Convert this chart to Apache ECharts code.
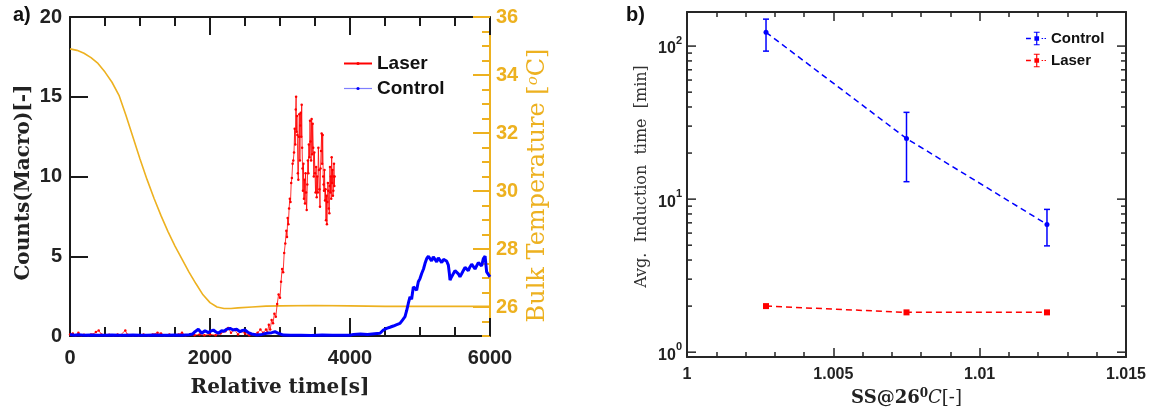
<!DOCTYPE html>
<html><head><meta charset="utf-8">
<script src="https://cdn.jsdelivr.net/npm/echarts@6/dist/echarts.min.js"></script>
<style>html,body{margin:0;padding:0;background:#fff}#c{width:1159px;height:408px}</style>
</head><body><div id="c"></div>
<script>
// ---------- Panel a data ----------
const timeMin = 0, timeMax = 6000;
const tempTime  = [0,100,200,300,400,500,600,700,800,900,1000,1100,1200,1300,1400,1500,1600,1700,1800,1900,2000,2100,2200,2300,2400,2600,2800,3000,3500,4000,4500,5000,5500,6000];
const tempValue = [34.9,34.85,34.75,34.6,34.4,34.1,33.75,33.3,32.6,31.85,31.1,30.4,29.75,29.15,28.6,28.1,27.65,27.2,26.8,26.42,26.15,26.0,25.95,25.95,25.97,26.0,26.03,26.04,26.05,26.04,26.02,26.02,26.02,26.02];

const laserTime = [0,40,80,120,160,200,260,300,330,370,410,450,500,560,620,680,720,790,820,900,980,1050,1120,1180,1250,1300,1350,1420,1480,1550,1600,1650,1720,1780,1850,1920,2000,2080,2150,2220,2260,2300,2350,2400,2450,2500,2560,2620,2680,2720,2760,
 2800,2820,2840,2860,2880,2900,2920,2940,2960,2980,3000,3015,3030,3045,3060,3075,3090,3100,3110,3120,3130,3140,3150,3160,3170,3180,3190,
 3200,3210,3218,3225,3230,3236,3242,3248,3255,3262,3270,3276,3284,3290,3296,3303,3310,3316,3322,3328,3335,3342,3350,3357,3365,3372,3381,3390,3398,3405,3412,3420,3429,3436,3444,3452,3460,3467,3475,3483,3490,3500,3508,3516,3524,3532,3540,3548,3556,3564,3571,3579,3587,3595,3602,3610,3617,3623,3629,3636,3643,3650,3657,3664,3670,3677,3684,3690,3697,3705,3710,3714,3720,3726,3732,3738,3744,3750,3756,3762,3767,3771,3776,3780];
const laserCounts = [0.1,0.15,0.05,0.2,0.05,0.08,0.05,0.1,0.1,0.25,0.35,0.1,0.05,0.08,0.05,0.1,0.05,0.35,0.08,0.05,0.05,0.1,0.05,0.1,0.2,0.15,0.05,0.1,0.05,0.1,0.2,0.05,0.1,0.05,0.1,0.05,0.1,0.05,0.15,0.3,0.5,0.2,0.4,0.1,0.3,0.15,0.05,0.1,0.2,0.4,0.2,
 0.4,0.2,0.7,0.4,1.0,0.8,1.4,1.2,2.0,2.6,2.4,3.4,4.2,4.0,5.2,5.8,6.6,6.2,7.4,7.0,8.0,8.6,8.4,9.6,9.9,10.8,11.0,
 11.5,13.0,12.0,14.2,15.0,12.8,13.8,12.6,10.2,9.8,12.5,13.9,11.0,13.2,14.0,12.5,14.5,11.8,10.5,9.1,10.8,8.6,9.8,8.3,10.2,9.0,7.9,9.5,11.0,10.2,12.0,11.2,13.5,12.2,11.0,13.6,11.4,13.3,11.8,10.0,11.5,10.2,9.0,10.6,8.7,10.0,9.0,11.8,10.4,9.2,8.1,10.5,11.6,12.7,10.8,12.6,10.0,9.5,9.1,10.4,8.5,9.2,7.25,8.8,7.0,8.4,9.6,9.1,8.0,7.7,9.4,10.6,9.0,10.0,8.6,11.2,9.6,10.4,8.8,9.1,10.0,10.8,9.4,10.0];

const controlTime = [0,60,120,200,300,400,500,600,700,800,900,1000,1100,1200,1300,1400,1500,1600,1700,1750,1786,1833,1881,1929,1976,2010,2048,2085,2119,2167,2200,2238,2286,2310,2333,2381,2429,2465,2500,2548,2595,2667,2740,2810,2881,2929,2976,3048,3150,3300,3450,3600,3750,3900,4000,4048,4150,4250,4350,4429,4476,4500,4524,4570,4619,4660,4714,4750,4786,4810,4833,4857,4880,4905,4930,4952,4976,5000,5024,5050,5071,5095,5120,5143,5165,5190,5215,5238,5262,5286,5310,5335,5357,5380,5405,5420,5429,5450,5476,5500,5524,5548,5571,5595,5619,5643,5667,5690,5714,5738,5762,5786,5810,5833,5857,5880,5905,5930,5952,5975,6000];
const controlCounts = [0.1,0.05,0.08,0.04,0.06,0.05,0.04,0.06,0.05,0.04,0.06,0.05,0.04,0.06,0.05,0.04,0.06,0.05,0.08,0.12,0.27,0.42,0.17,0.33,0.21,0.3,0.375,0.25,0.17,0.33,0.3,0.42,0.48,0.4,0.375,0.42,0.27,0.35,0.375,0.21,0.125,0.06,0.1,0.17,0.21,0.27,0.17,0.06,0.04,0.05,0.03,0.06,0.04,0.05,0.05,0.1,0.12,0.1,0.14,0.17,0.375,0.3,0.48,0.55,0.625,0.7,0.79,1.0,1.21,1.6,2.04,2.46,2.3,3.08,3.2,2.875,3.4,3.6,3.92,4.2,4.54,4.85,5.0,5.06,4.7,4.96,4.8,4.65,4.9,4.75,4.6,4.8,4.85,4.7,4.44,3.9,3.5,3.7,3.81,4.1,4.02,3.9,3.71,3.9,4.02,4.3,4.23,4.1,4.33,4.5,4.54,4.2,4.23,4.6,4.65,4.4,4.85,5.0,4.02,4.1,3.71];

const countTicks = [0, 5, 10, 15, 20];
const tempMin = 25, tempMax = 36;
const tempMajorTicks = [26, 28, 30, 32, 34, 36];

// ---------- Panel b data ----------
const ssMin = 1.0, ssMax = 1.015;
const ssValues = [1.0027, 1.0075, 1.0123];
const controlInduction = [123, 24.9, 6.84];
const controlLower = [92.7, 13.0, 4.95];
const controlUpper = [150, 36.9, 8.57];
const laserInduction = [2.0, 1.82, 1.82];
const inductionMin = 0.93, inductionMax = 167;
const logTickValues = [1,2,3,4,5,6,7,8,9,10,20,30,40,50,60,70,80,90,100];

// ---------- styling ----------
const GOLD = '#EDB120';
const AX = '#1a1a1a';
const BOX = '#262626';
const SANS = '"Liberation Sans", Arial, sans-serif';
const SERIF = '"DejaVu Serif", serif';

const zip = (a, b) => a.map((v, i) => [v, b[i]]);

const chart = echarts.init(document.getElementById('c'), null, {renderer: 'canvas', width: 1159, height: 408});

const tickLbl = (size, color) => ({fontFamily: SANS, fontWeight: 'bold', fontSize: size, color: color});
const errIcon = 'path://M0,6.3h5v1.4h-5Z M8,0h6v1.2h-6Z M10.4,0h1.2v14h-1.2Z M8,12.8h6v1.2h-6Z M8.6,4.6h4.8v4.8h-4.8Z M16,6.5h1.5v1h-1.5Z M19,6.5h1.5v1h-1.5Z';

const option = {
  animation: false,
  backgroundColor: '#fff',
  title: [
    {text: 'a)', left: 13, top: 5, padding: 0, textStyle: {fontFamily: SANS, fontWeight: 'bold', fontSize: 20, color: '#111'}},
    {text: 'b)', left: 626, top: 5, padding: 0, textStyle: {fontFamily: SANS, fontWeight: 'bold', fontSize: 20, color: '#111'}}
  ],
  grid: [
    {left: 70, top: 17, width: 420, height: 319, containLabel: false, outerBoundsMode: 'none'},
    {left: 687, top: 12, width: 439, height: 345, containLabel: false, outerBoundsMode: 'none'}
  ],
  legend: [
    {
      data: [{name: 'Laser'}, {name: 'Control', lineStyle: {width: 1.2, opacity: 0.5}}],
      left: 343, top: 54, orient: 'vertical', itemWidth: 28, itemHeight: 4, itemGap: 6, padding: 0,
      selectedMode: false,
      textStyle: {fontFamily: SANS, fontWeight: 'bold', fontSize: 19, color: '#111'}
    },
    {
      data: [{name: 'Control ', icon: errIcon}, {name: 'Laser ', icon: errIcon}],
      formatter: n => n.trim(),
      left: 1026, top: 31, orient: 'vertical', itemWidth: 20, itemHeight: 14, itemGap: 7, padding: 0,
      selectedMode: false,
      textStyle: {fontFamily: SANS, fontWeight: 'bold', fontSize: 15, color: '#111'}
    }
  ],
  xAxis: [
    {
      type: 'value', gridIndex: 0, min: timeMin, max: timeMax, interval: 2000, position: 'bottom',
      axisLine: {onZero: false, lineStyle: {color: AX, width: 2}},
      axisTick: {inside: true, length: 18, lineStyle: {color: AX, width: 2}},
      minorTick: {show: true, splitNumber: 4, length: 9, lineStyle: {color: AX, width: 2}},
      splitLine: {show: false}, minorSplitLine: {show: false},
      axisLabel: Object.assign({margin: 12, formatter: v => String(v)}, tickLbl(20, '#222')),
      name: 'Relative time[s]', nameLocation: 'middle', nameGap: 42,
      nameTextStyle: {fontFamily: SERIF, fontWeight: 'bold', fontSize: 20, color: '#222'}
    },
    {
      type: 'value', gridIndex: 0, min: timeMin, max: timeMax, interval: 2000, position: 'top',
      axisLine: {onZero: false, lineStyle: {color: AX, width: 2}},
      axisTick: {inside: true, length: 18, lineStyle: {color: AX, width: 2}},
      minorTick: {show: true, splitNumber: 4, length: 9, lineStyle: {color: AX, width: 2}},
      splitLine: {show: false}, axisLabel: {show: false}
    },
    {
      type: 'value', gridIndex: 1, min: ssMin, max: ssMax, interval: 0.005, position: 'bottom',
      axisLine: {onZero: false, lineStyle: {color: BOX, width: 2}},
      axisTick: {inside: true, length: 9, lineStyle: {color: BOX, width: 1.5}},
      minorTick: {show: true, splitNumber: 5, length: 5, lineStyle: {color: BOX, width: 1.5}},
      splitLine: {show: false}, minorSplitLine: {show: false},
      axisLabel: Object.assign({margin: 10}, tickLbl(16, '#222')),
      name: '{b|SS@26}{s|0}{i|C}{n|[-]}', nameLocation: 'middle', nameGap: 20,
      nameTextStyle: {
        color: '#222',
        rich: {
          b: {fontFamily: SERIF, fontWeight: 'bold', fontSize: 18, lineHeight: 19, verticalAlign: 'bottom', color: '#222'},
          s: {fontFamily: SERIF, fontWeight: 'bold', fontSize: 12, lineHeight: 12, verticalAlign: 'top', color: '#222'},
          i: {fontFamily: SERIF, fontStyle: 'italic', fontSize: 18, lineHeight: 19, verticalAlign: 'bottom', color: '#222'},
          n: {fontFamily: SERIF, fontSize: 18, lineHeight: 19, verticalAlign: 'bottom', color: '#222'}
        }
      }
    },
    {
      type: 'value', gridIndex: 1, min: ssMin, max: ssMax, interval: 0.005, position: 'top',
      axisLine: {onZero: false, lineStyle: {color: BOX, width: 2}},
      axisTick: {inside: true, length: 9, lineStyle: {color: BOX, width: 1.5}},
      minorTick: {show: true, splitNumber: 5, length: 5, lineStyle: {color: BOX, width: 1.5}},
      splitLine: {show: false}, axisLabel: {show: false}
    }
  ],
  yAxis: [
    {
      type: 'value', gridIndex: 0, min: countTicks[0], max: countTicks[countTicks.length - 1], interval: 5, position: 'left',
      axisLine: {onZero: false, lineStyle: {color: AX, width: 2}},
      axisTick: {inside: true, length: 18, lineStyle: {color: AX, width: 2}},
      splitLine: {show: false},
      axisLabel: Object.assign({margin: 8}, tickLbl(20, '#222')),
      name: 'Counts(Macro)[-]', nameLocation: 'middle', nameGap: 36, nameRotate: 90,
      nameTextStyle: {fontFamily: SERIF, fontWeight: 'bold', fontSize: 20, color: '#222', padding: [0, 12, 0, 0]}
    },
    {
      type: 'value', gridIndex: 0, min: tempMin, max: tempMax, interval: 0.5, position: 'right',
      axisLine: {onZero: false, lineStyle: {color: GOLD, width: 2}},
      axisTick: {inside: true, length: 8, lineStyle: {color: GOLD, width: 2}},
      splitLine: {show: false},
      axisLabel: Object.assign({margin: 6, formatter: v => (Math.abs(v % 2) < 1e-9 ? String(v) : '')}, tickLbl(20, GOLD)),
      name: 'Bulk Temperature [{s|o}C]', nameLocation: 'middle', nameGap: 36, nameRotate: 90,
      nameTextStyle: {
        fontFamily: SERIF, fontSize: 24, color: GOLD, padding: [0, 18, 0, 0],
        rich: {s: {fontFamily: SERIF, fontStyle: 'italic', fontSize: 15, verticalAlign: 'top', color: GOLD}}
      }
    },
    {
      type: 'log', logBase: 10, gridIndex: 1, min: inductionMin, max: inductionMax, position: 'left',
      axisLine: {onZero: false, lineStyle: {color: BOX, width: 2}},
      axisTick: {show: false}, splitLine: {show: false}, minorTick: {show: false},
      axisLabel: {
        margin: 5,
        formatter: v => { const l = Math.log10(v); const e = Math.round(l); return Math.abs(l - e) < 1e-6 ? '{b|10}{s|' + e + '}' : ''; },
        rich: {
          b: {fontFamily: SANS, fontWeight: 'bold', fontSize: 16, lineHeight: 22, verticalAlign: 'bottom', color: '#222'},
          s: {fontFamily: SANS, fontWeight: 'bold', fontSize: 11, lineHeight: 11, verticalAlign: 'top', color: '#222'}
        }
      },
      name: 'Avg.  Induction  time  [min]', nameLocation: 'middle', nameGap: 37, nameRotate: 90,
      nameTextStyle: {fontFamily: SERIF, fontSize: 16, color: '#333', padding: [0, 0, 0, 16]}
    },
    {
      type: 'log', logBase: 10, gridIndex: 1, min: inductionMin, max: inductionMax, position: 'right',
      axisLine: {onZero: false, lineStyle: {color: BOX, width: 2}},
      axisTick: {show: false}, splitLine: {show: false}, axisLabel: {show: false}
    }
  ],
  series: [
    {
      name: 'Bulk temperature', type: 'line', xAxisIndex: 0, yAxisIndex: 1,
      data: zip(tempTime, tempValue), showSymbol: false, symbol: 'none', smooth: false,
      lineStyle: {color: GOLD, width: 1.6}, itemStyle: {color: GOLD}, z: 2
    },
    {
      name: 'Laser', type: 'line', xAxisIndex: 0, yAxisIndex: 0,
      data: zip(laserTime, laserCounts), symbol: 'circle', symbolSize: 2.5, showSymbol: true,
      lineStyle: {color: '#ff0000', width: 0.8}, itemStyle: {color: '#ff0000'}, z: 3
    },
    {
      name: 'Control', type: 'line', xAxisIndex: 0, yAxisIndex: 0,
      data: zip(controlTime, controlCounts), symbol: 'circle', symbolSize: 2.5, showSymbol: false,
      lineStyle: {color: '#0000ff', width: 3}, itemStyle: {color: '#0000ff'}, z: 4
    },
    {
      type: 'custom', xAxisIndex: 0, yAxisIndex: 1, silent: true, z: 5,
      data: tempMajorTicks.map(v => [timeMax, v]),
      renderItem: (params, api) => {
        const p = api.coord([api.value(0), api.value(1)]);
        return {type: 'line', shape: {x1: p[0], y1: p[1], x2: p[0] - 17, y2: p[1]}, style: {stroke: GOLD, lineWidth: 2}};
      }
    },
    {
      name: 'Control ', type: 'line', xAxisIndex: 2, yAxisIndex: 2,
      data: zip(ssValues, controlInduction), symbol: 'circle', symbolSize: 5,
      lineStyle: {color: '#0000ff', width: 1.5, type: [6, 4]}, itemStyle: {color: '#0000ff'}, z: 4
    },
    {
      name: 'Laser ', type: 'line', xAxisIndex: 2, yAxisIndex: 2,
      data: zip(ssValues, laserInduction), symbol: 'rect', symbolSize: 6,
      lineStyle: {color: '#ff0000', width: 1.5, type: [6, 4]}, itemStyle: {color: '#ff0000'}, z: 4
    },
    {
      type: 'custom', xAxisIndex: 2, yAxisIndex: 2, silent: true, z: 4,
      data: ssValues.map((x, i) => [x, controlLower[i], controlUpper[i]]),
      encode: {x: 0, y: [1, 2]},
      renderItem: (params, api) => {
        const lo = api.coord([api.value(0), api.value(1)]);
        const hi = api.coord([api.value(0), api.value(2)]);
        const w = 3, st = {stroke: '#0000ff', lineWidth: 1.5};
        return {type: 'group', children: [
          {type: 'line', shape: {x1: lo[0], y1: lo[1], x2: hi[0], y2: hi[1]}, style: st},
          {type: 'line', shape: {x1: lo[0] - w, y1: lo[1], x2: lo[0] + w, y2: lo[1]}, style: st},
          {type: 'line', shape: {x1: hi[0] - w, y1: hi[1], x2: hi[0] + w, y2: hi[1]}, style: st}
        ]};
      }
    },
    {
      type: 'custom', xAxisIndex: 2, yAxisIndex: 2, silent: true, z: 5,
      data: logTickValues.map(v => [ssMin, v]),
      renderItem: (params, api) => {
        const v = api.value(1);
        const l = api.coord([ssMin, v]);
        const r = api.coord([ssMax, v]);
        const lg = Math.log10(v);
        const len = Math.abs(lg - Math.round(lg)) < 1e-9 ? 9 : 5;
        const st = {stroke: BOX, lineWidth: 1.5};
        return {type: 'group', children: [
          {type: 'line', shape: {x1: l[0], y1: l[1], x2: l[0] + len, y2: l[1]}, style: st},
          {type: 'line', shape: {x1: r[0], y1: r[1], x2: r[0] - len, y2: r[1]}, style: st}
        ]};
      }
    }
  ]
};
chart.setOption(option);
</script>
</body></html>
